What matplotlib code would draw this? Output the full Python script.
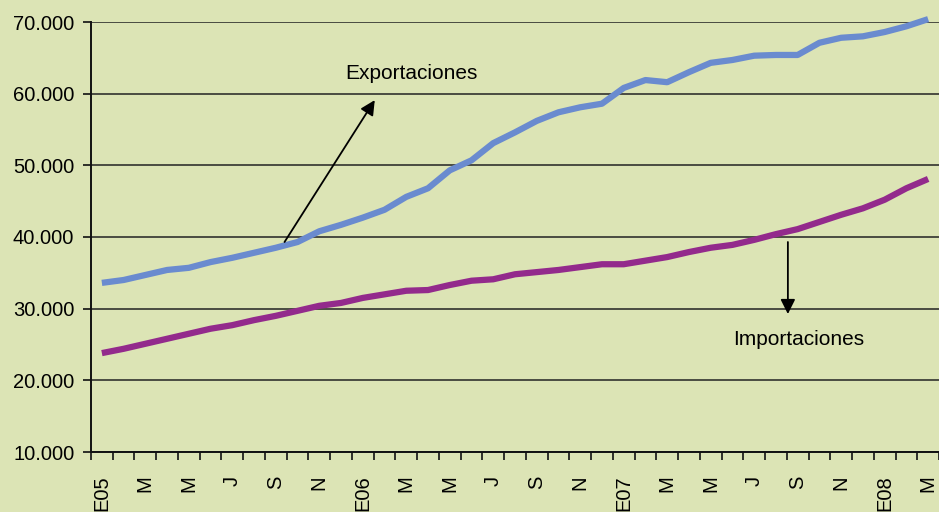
import matplotlib
matplotlib.use("Agg")
import matplotlib.pyplot as plt
from matplotlib.ticker import FuncFormatter, FixedLocator

plt.rcParams['font.family'] = ['Liberation Sans', 'DejaVu Sans']

months = list(range(39))  # Jan 2005 .. Mar 2008
tick_labels = ['E05', 'M', 'M', 'J', 'S', 'N', 'E06', 'M', 'M', 'J', 'S', 'N',
               'E07', 'M', 'M', 'J', 'S', 'N', 'E08', 'M']

exportaciones = [33600, 34000, 34700, 35400, 35700, 36500, 37100, 37800, 38500, 39300,
                 40800, 41700, 42700, 43800, 45600, 46800, 49300, 50700, 53100, 54600,
                 56200, 57400, 58100, 58600, 60800, 61900, 61600, 63000, 64300, 64700,
                 65300, 65400, 65400, 67100, 67800, 68000, 68600, 69400, 70400]

importaciones = [23800, 24400, 25100, 25800, 26500, 27200, 27700, 28400, 29000, 29700,
                 30400, 30800, 31500, 32000, 32500, 32600, 33300, 33900, 34100, 34800,
                 35100, 35400, 35800, 36200, 36200, 36700, 37200, 37900, 38500, 38900,
                 39600, 40400, 41100, 42100, 43100, 44000, 45200, 46800, 48100]

bg = '#DCE4B5'
W, H = 939, 512
fig = plt.figure(figsize=(W / 100, H / 100), dpi=100, facecolor=bg)
left = 91 / W
bottom = 1 - 452 / H
top = 1 - 22 / H
ax = fig.add_axes([left, bottom, 1 - left, top - bottom])
ax.set_facecolor(bg)

ax.plot(months, exportaciones, color='#6A8BCF', lw=4.5, solid_capstyle='butt',
        solid_joinstyle='round', zorder=3, clip_on=False)
ax.plot(months, importaciones, color='#932A8C', lw=4.5, solid_capstyle='butt',
        solid_joinstyle='round', zorder=3, clip_on=False)

ax.set_ylim(10000, 70000)
ax.set_xlim(-0.5, 38.5)
ax.set_yticks(range(10000, 70001, 10000))
ax.yaxis.set_major_formatter(FuncFormatter(lambda v, p: f"{int(v):,}".replace(',', '.')))
ax.grid(axis='y', color='#222222', lw=1.1, zorder=1)
ax.set_axisbelow(True)

# category boundaries as major ticks, labels at every second category centre
ax.xaxis.set_major_locator(FixedLocator([i - 0.5 for i in range(40)]))
ax.xaxis.set_major_formatter(FuncFormatter(lambda v, p: ''))
ax.xaxis.set_minor_locator(FixedLocator(list(range(0, 39, 2))))
ax.set_xticklabels(tick_labels, minor=True, rotation=90, fontsize=14.5)
ax.tick_params(axis='x', which='minor', length=0, pad=17)
ax.tick_params(axis='x', which='major', length=6, width=1.2, direction='out', color='#111111')
ax.tick_params(axis='y', length=6, width=1.2, direction='out', labelsize=14.5, pad=6,
               color='#111111')

for s in ['top', 'right']:
    ax.spines[s].set_visible(False)
for s in ['left', 'bottom']:
    ax.spines[s].set_color('#111111')
    ax.spines[s].set_linewidth(1.4)

ax.annotate('', xy=(12.55, 59100), xytext=(8.4, 39300),
            arrowprops=dict(arrowstyle='-|>', color='black', lw=1.3, mutation_scale=22,
                            shrinkA=0, shrinkB=0), zorder=4)
ax.text(14.25, 62750, 'Exportaciones', ha='center', va='center', fontsize=15)

ax.annotate('', xy=(31.55, 29250), xytext=(31.55, 39300),
            arrowprops=dict(arrowstyle='-|>', color='black', lw=1.3, mutation_scale=22,
                            shrinkA=0, shrinkB=0), zorder=4)
ax.text(32.05, 25650, 'Importaciones', ha='center', va='center', fontsize=15)

fig.savefig('out.png', dpi=100, facecolor=bg)
